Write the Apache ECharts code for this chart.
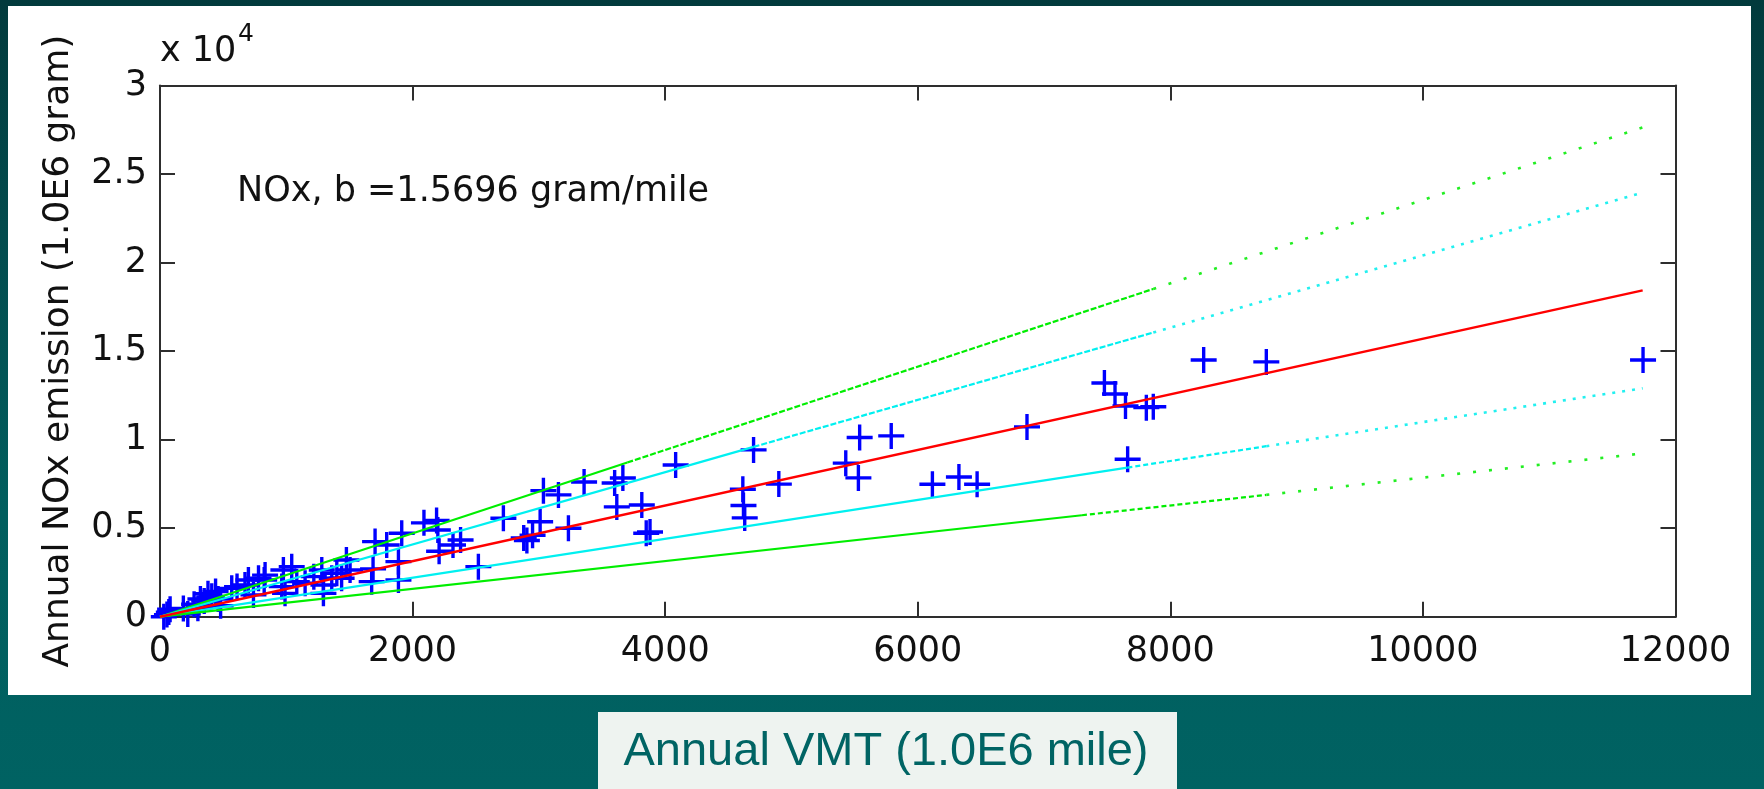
<!DOCTYPE html>
<html>
<head>
<meta charset="utf-8">
<script src="https://cdn.jsdelivr.net/npm/echarts@6/dist/echarts.min.js"></script>
<style>
  html, body { margin:0; padding:0; width:1764px; height:789px; overflow:hidden;
    background: linear-gradient(to bottom, #023a3c 0%, #034c4e 30%, #015e5e 65%, #006262 100%); }
  #panel { position:absolute; left:8px; top:6px; width:1743px; height:689px; background:#ffffff; }
  #chart { position:absolute; left:0; top:0; width:1764px; height:789px; }
</style>
</head>
<body>
<div id="panel"></div>
<div id="chart"></div>
<script>
// Scatter data: annual VMT (1.0E6 mile) and annual NOx emission (1.0E6 gram)
const vmt = [30,55,70,80,185,220,270,300,320,350,380,410,440,460,480,
  568,610,673,700,740,780,825,832,964,977,990,1043,1083,1149,
  1218,1281,1294,1294,1360,1400,1438,1476,1505,
  1676,1687,1703,1795,1888,1888,1914,2090,2190,2200,2210,2320,2380,2521,
  2719,2880,2905,2950,3010,3036,3155,3234,3358,3600,3665,3617,3815,3850,3880,
  4083,4615,4620,4630,4700,4900,
  5430,5540,5790,5530,6116,6326,6470,
  6865,7478,7562,7645,7810,7865,7662,8264,8760,11743];
const nox = [0,120,260,420,470,150,700,480,1000,880,1300,1150,1420,1000,620,
  1600,1700,1790,2070,1230,2170,2070,2350,1700,2640,1320,2825,1980,1890,
  2260,2640,1790,1320,2170,2450,2170,3200,2640,
  1980,2700,4240,4050,3110,2070,4710,5300,5440,4900,3700,4050,4330,2825,
  5560,4450,4300,4600,5360,7120,6880,4995,7610,7550,7830,6200,6310,4710,4780,
  8570,7200,6280,5580,9420,7490,
  8670,10120,10210,7840,7480,7890,7480,
  10720,13200,12580,11900,11805,11860,8890,14500,14390,14500];

// Fitted line (b = 1.5696 gram/mile) and band lines
const redLineX = [0, 11740];
const redLineY = [0, 18430];
const upperGreenX = [0, 3700, 7865, 11740];
const upperGreenY = [0, 8710, 18510, 27630];
const upperCyanX = [0, 4700, 7865, 11740];
const upperCyanY = [0, 9590, 16050, 23950];
const lowerCyanX = [0, 7660, 8760, 11740];
const lowerCyanY = [0, 8420, 9630, 12900];
const lowerGreenX = [0, 7300, 8760, 11740];
const lowerGreenY = [0, 5730, 6880, 9220];

const xTicks = [0, 2000, 4000, 6000, 8000, 10000, 12000];
const yTickLabels = ['0', '0.5', '1', '1.5', '2', '2.5', '3'];

const annotation = 'NOx, b =1.5696 gram/mile';
const xName = 'Annual VMT (1.0E6 mile)';
const yName = 'Annual NOx emission (1.0E6 gram)';

const chart = echarts.init(document.getElementById('chart'), null, {renderer: 'canvas'});

const FIG_FONT = '"DejaVu Sans", "Liberation Sans", Arial, sans-serif';
const AX = '#2e2e2e';

function seg(xs, ys, i0, i1, color, type, width) {
  const d = [];
  for (let i = i0; i <= i1; i++) d.push([xs[i], ys[i]]);
  return {
    type: 'line', data: d, showSymbol: false, symbol: 'none', silent: true,
    animation: false, z: 5, clip: false,
    lineStyle: { color: color, width: width || 2.2, type: type, cap: 'butt', opacity: 1 }
  };
}

const scatterData = vmt.map((v, i) => [v, nox[i]]);
const plusPath = 'path://M43.5,0H56.5V43.5H100V56.5H56.5V100H43.5V56.5H0V43.5H43.5Z';

const axisCommon = {
  type: 'value',
  splitLine: { show: false },
  axisLine: { show: true, onZero: false, lineStyle: { color: AX, width: 2 } },
  axisTick: { show: true, inside: true, length: 15, lineStyle: { color: AX, width: 2 } }
};

const option = {
  animation: false,
  grid: { left: 160, top: 85.5, width: 1515.5, height: 531.2, containLabel: false },
  xAxis: [
    Object.assign({}, axisCommon, {
      position: 'bottom', min: xTicks[0], max: xTicks[xTicks.length - 1], interval: 2000,
      axisLabel: { show: true, margin: 18, fontFamily: FIG_FONT, fontSize: 35, color: '#111',
        showMinLabel: true, showMaxLabel: true,
        formatter: function (v) { return String(v); } }
    }),
    Object.assign({}, axisCommon, {
      position: 'top', min: xTicks[0], max: xTicks[xTicks.length - 1], interval: 2000,
      axisLabel: { show: false }
    })
  ],
  yAxis: [
    Object.assign({}, axisCommon, {
      position: 'left', min: 0, max: 30000, interval: 5000,
      name: yName, nameLocation: 'middle', nameGap: 83,
      nameTextStyle: { fontFamily: FIG_FONT, fontSize: 36, color: '#111' },
      axisLabel: { show: true, margin: 13, fontFamily: FIG_FONT, fontSize: 35, color: '#111',
        showMinLabel: true, showMaxLabel: true,
        formatter: function (v) { return yTickLabels[Math.round(v / 5000)]; } }
    }),
    Object.assign({}, axisCommon, {
      position: 'right', min: 0, max: 30000, interval: 5000,
      axisLabel: { show: false }
    })
  ],
  series: [
    {
      type: 'scatter', data: scatterData, symbol: plusPath, symbolSize: 26,
      itemStyle: { color: '#0000ff', opacity: 1 }, z: 3, clip: false, silent: true, animation: false
    },
    seg(upperGreenX, upperGreenY, 0, 1, '#00ee00', 'solid'),
    seg(upperGreenX, upperGreenY, 1, 2, '#00ee00', [6, 2]),
    seg(upperGreenX, upperGreenY, 2, 3, '#22ee22', [3, 13], 2.6),
    seg(upperCyanX, upperCyanY, 0, 1, '#00f0f0', 'solid'),
    seg(upperCyanX, upperCyanY, 1, 2, '#00f0f0', [6, 2]),
    seg(upperCyanX, upperCyanY, 2, 3, '#22f0f0', [3, 7], 2.6),
    seg(lowerCyanX, lowerCyanY, 0, 1, '#00f0f0', 'solid'),
    seg(lowerCyanX, lowerCyanY, 1, 2, '#00f0f0', [5, 3]),
    seg(lowerCyanX, lowerCyanY, 2, 3, '#22f0f0', [3, 7], 2.6),
    seg(lowerGreenX, lowerGreenY, 0, 1, '#00ee00', 'solid'),
    seg(lowerGreenX, lowerGreenY, 1, 2, '#00ee00', [5, 3]),
    seg(lowerGreenX, lowerGreenY, 2, 3, '#22ee22', [3, 13], 2.6),
    seg(redLineX, redLineY, 0, 1, '#ff0000', 'solid', 2.5)
  ],
  graphic: [
    { type: 'text', z: 10, style: { text: annotation, x: 237, y: 192, fill: '#111',
        font: '35px ' + FIG_FONT, align: 'left', verticalAlign: 'middle',
        textAlign: 'left', textVerticalAlign: 'middle' } },
    { type: 'text', z: 10, style: { text: 'x 10', x: 160, y: 52, fill: '#111',
        font: '35px ' + FIG_FONT, align: 'left', verticalAlign: 'middle',
        textAlign: 'left', textVerticalAlign: 'middle' } },
    { type: 'text', z: 10, style: { text: '4', x: 238, y: 34, fill: '#111',
        font: '25px ' + FIG_FONT, align: 'left', verticalAlign: 'middle',
        textAlign: 'left', textVerticalAlign: 'middle' } },
    { type: 'rect', z: 10, shape: { x: 598, y: 712, width: 579, height: 80 },
      style: { fill: '#eef3f0' } },
    { type: 'text', z: 11, style: { text: xName, x: 886, y: 752, fill: '#006464',
        font: '47px "Liberation Sans", Arial, sans-serif', align: 'center', verticalAlign: 'middle',
        textAlign: 'center', textVerticalAlign: 'middle' } }
  ]
};
chart.setOption(option);
</script>
</body>
</html>
